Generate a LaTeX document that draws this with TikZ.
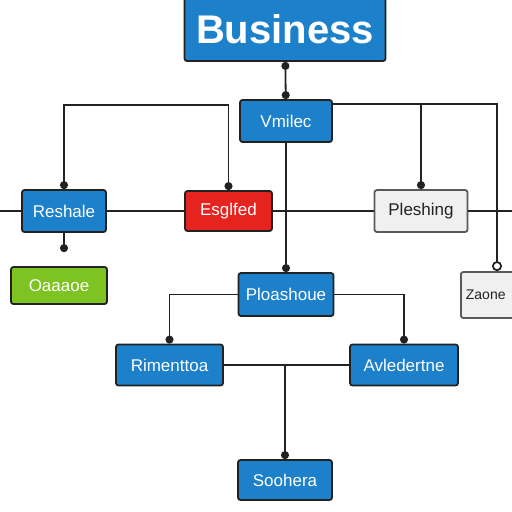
\documentclass[tikz,border=0pt]{standalone}
\usepackage{fontspec}
\setmainfont{Liberation Sans}
\usepackage{tikz}
\usetikzlibrary{arrows.meta, positioning}

\definecolor{boxblue}{HTML}{1C80CA}
\definecolor{boxred}{HTML}{E5241F}
\definecolor{boxgreen}{HTML}{7DC322}
\definecolor{boxgray}{HTML}{F0F0F0}
\definecolor{inkline}{HTML}{222222}

\tikzset{
  card/.style={draw=inkline, line width=1.8pt, rounded corners=2.5pt, inner sep=0pt,
    text=white, font=\fontsize{17}{17}\selectfont},
  bluecard/.style={card, fill=boxblue},
  redcard/.style={card, fill=boxred},
  greencard/.style={card, fill=boxgreen},
  graycard/.style={card, fill=boxgray, draw=inkline!75, text=inkline},
  link/.style={draw=inkline, line width=1.8pt},
  dotend/.style={-{Circle[length=8pt]}},
  dotboth/.style={{Circle[length=8pt]}-{Circle[length=8pt]}},
  ringend/.style={-{Circle[open, length=10pt, fill=white]}}
}

\begin{document}
\begin{tikzpicture}[x=1pt, y=-1pt]
\useasboundingbox[fill=white] (0,0) rectangle (512,512);
\clip (0,0) rectangle (512,512);

\node[bluecard, minimum width=201pt, minimum height=63pt, font=\fontsize{40}{40}\selectfont\bfseries] (bus) at (285,29.5) {Business};
\node[bluecard, minimum width=92pt, minimum height=42pt] (vm) at (286,121) {Vmilec};
\node[bluecard, minimum width=84pt, minimum height=42pt] (rs) at (64,211) {Reshale};
\node[redcard, minimum width=87pt, minimum height=40pt] (es) at (228.5,211) {Esglfed};
\node[graycard, minimum width=93pt, minimum height=42pt] (pl) at (421,211) {Pleshing};
\node[greencard, minimum width=96pt, minimum height=37pt] (oa) at (59,285.5) {Oaaaoe};
\node[graycard, text width=62pt, minimum height=46pt, inner xsep=5pt, align=left, anchor=west,
  font=\fontsize{14}{14}\selectfont] (za) at (460,295) {Zaone};
\node[bluecard, minimum width=95pt, minimum height=43pt] (po) at (286,294.5) {Ploashoue};
\node[bluecard, minimum width=107pt, minimum height=41pt] (ri) at (169.5,365) {Rimenttoa};
\node[bluecard, minimum width=108pt, minimum height=41pt] (av) at (404,365) {Avledertne};
\node[bluecard, minimum width=94pt, minimum height=40pt] (so) at (285,480) {Soohera};

\coordinate (lft) at (0,211);
\coordinate (rgt) at (512,211);
\coordinate (r1) at ([yshift=-5pt]vm.north east);

\draw[link, dotboth] (bus) -- (vm);
\draw[link, dotboth] (rs.north) -- ++(0,-84) -| (es.north);
\draw[link, ringend] (r1) -| (497,0 |- za.north);
\draw[link, dotend] (pl.north |- r1) -- (pl.north);
\draw[link] (lft) -- (rs) -- (es) -- (pl) -- (rgt);
\draw[link, dotend] (vm) -- (po);
\draw[link, dotend, shorten >=14pt] (rs) -- (rs |- oa.north);
\draw[link, dotend] (po.west) -| (ri.north);
\draw[link, dotend] (po.east) -| (av.north);
\draw[link] (ri) -- (av);
\draw[link, dotend] (so.north |- av.west) -- (so.north);
\end{tikzpicture}
\end{document}
